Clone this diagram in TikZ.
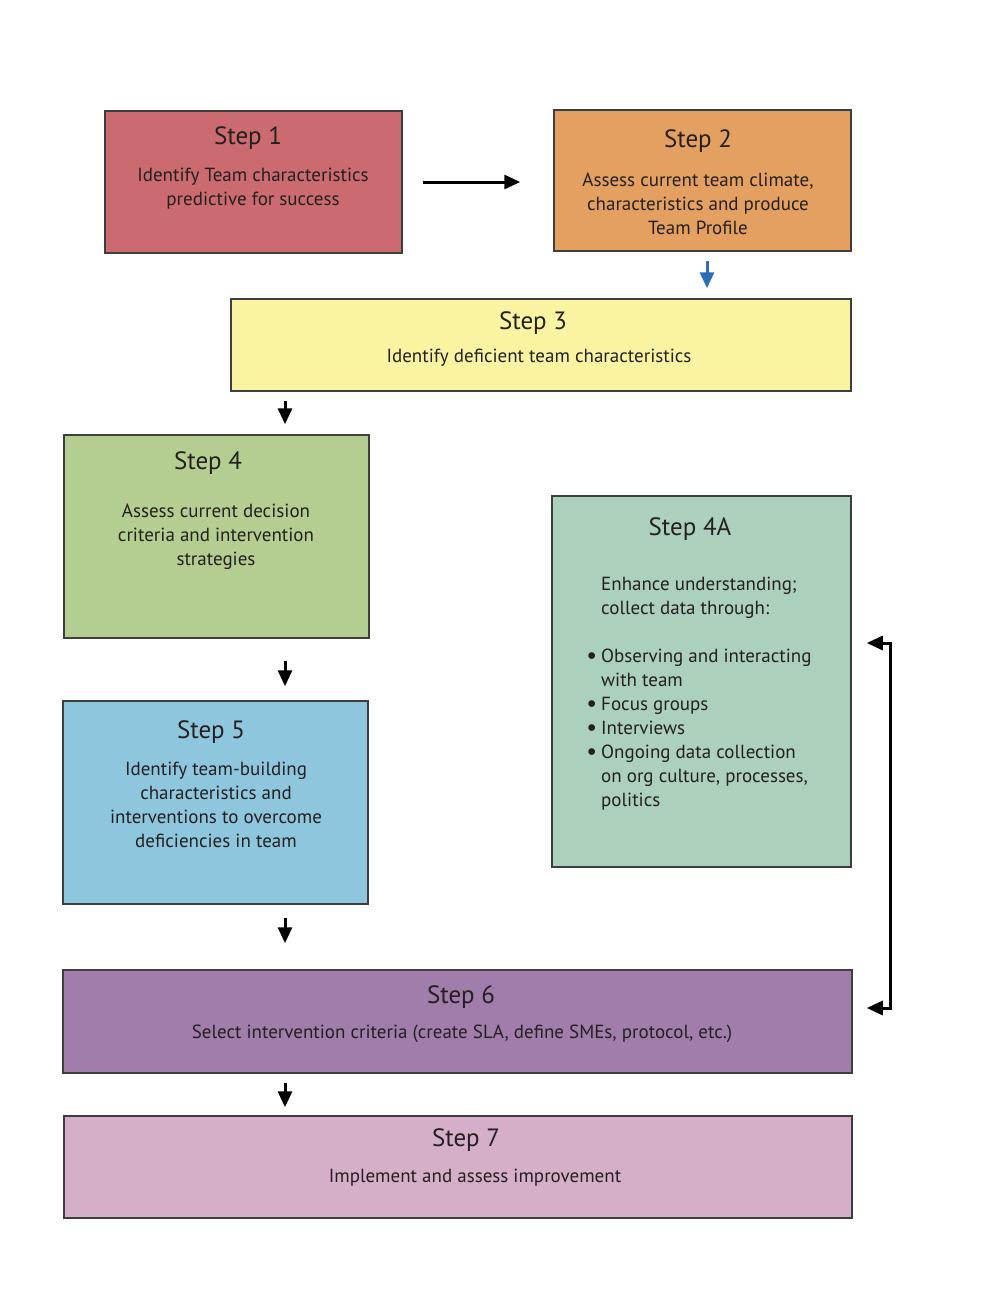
\documentclass[tikz,border=0pt]{standalone}
\usepackage{xcolor}
\usepackage{fontspec}
\setmainfont{PT Sans}
\usepackage{tikz}
\usetikzlibrary{arrows.meta,positioning}

\definecolor{stepone}{RGB}{203,107,111}
\definecolor{steptwo}{RGB}{227,160,96}
\definecolor{stepthree}{RGB}{250,244,162}
\definecolor{stepfour}{RGB}{180,206,145}
\definecolor{stepfoura}{RGB}{171,209,188}
\definecolor{stepfive}{RGB}{142,198,222}
\definecolor{stepsix}{RGB}{161,125,171}
\definecolor{stepseven}{RGB}{213,175,200}
\definecolor{boxline}{RGB}{62,62,62}
\definecolor{txt}{RGB}{36,32,32}
\definecolor{arrowblue}{RGB}{47,109,181}

\newcommand{\bulletmark}{\llap{\smash{\raisebox{-1pt}{\fontsize{24}{24}\selectfont\textbullet}}\hspace{4pt}}}

\begin{document}
\begin{tikzpicture}[x=1pt,y=-1pt,
      box_st/.style={
         rectangle,
         draw=boxline,
         line width=1.5pt,
         inner sep=0pt},
      title_txt/.style={
         text=txt,
         inner sep=0pt,
         font=\fontsize{25}{30}\selectfont},
      body_txt/.style={
         text=txt,
         inner sep=0pt,
         align=center,
         font=\fontsize{19}{24}\selectfont},
      arrow_black/.style={
         line width=3pt,
         -{Triangle[width=14pt,length=16pt]}},
]
      \useasboundingbox[fill=white] (0,0) rectangle (1000,1294);

      %boxes
      \node[box_st,fill=stepone,minimum width=297pt,minimum height=142pt] (s1) at (253.5,182) {};
      \node[box_st,fill=steptwo,minimum width=297pt,minimum height=141pt] (s2) at (702.5,180.5) {};
      \node[box_st,fill=stepthree,minimum width=620pt,minimum height=92pt] (s3) at (541,345) {};
      \node[box_st,fill=stepfour,minimum width=305pt,minimum height=203pt] (s4) at (216.5,536.5) {};
      \node[box_st,fill=stepfoura,minimum width=299pt,minimum height=371pt] (s4a) at (701.5,681.5) {};
      \node[box_st,fill=stepfive,minimum width=305pt,minimum height=203pt] (s5) at (215.5,802.5) {};
      \node[box_st,fill=stepsix,minimum width=789pt,minimum height=103pt] (s6) at (457.5,1021.5) {};
      \node[box_st,fill=stepseven,minimum width=788pt,minimum height=102pt] (s7) at (458,1167) {};

      %titles
      \node[title_txt] (t1) at (248,138) {Step 1};
      \node[title_txt] (t2) at (698,141) {Step 2};
      \node[title_txt] (t3) at (533,323) {Step 3};
      \node[title_txt] (t4) at (208,463) {Step 4};
      \node[title_txt] (t4a) at (690,529) {Step 4A};
      \node[title_txt] (t5) at (211,732) {Step 5};
      \node[title_txt] (t6) at (461,997) {Step 6};
      \node[title_txt] (t7) at (466,1140) {Step 7};

      %texts
      \node[body_txt] (b1) at (253,189) {Identify Team characteristics\\predictive for success};
      \node[body_txt] (b2) at (698,204) {Assess current team climate,\\characteristics and produce\\Team Profile};
      \node[body_txt] (b3) at (539,358) {Identify deficient team characteristics};
      \node[body_txt] (b4) at (216,537) {Assess current decision\\criteria and intervention\\strategies};
      \node[body_txt,align=left,anchor=west] (b4a) at (601,694) {Enhance understanding;\\collect data through:\\[24pt]
         \bulletmark Observing and interacting\\with team\\
         \bulletmark Focus groups\\
         \bulletmark Interviews\\
         \bulletmark Ongoing data collection\\on org culture, processes,\\politics};
      \node[body_txt] (b5) at (216,804.5) {Identify team-building\\characteristics and\\interventions to overcome\\deficiencies in team};
      \node[body_txt] (b6) at (462,1034) {Select intervention criteria (create SLA, define SMEs, protocol, etc.)};
      \node[body_txt] (b7) at (475,1178) {Implement and assess improvement};

      \coordinate (col) at (285,0);

      \draw[arrow_black,shorten <=20pt,shorten >=33pt] (s1.east) -- (s1.east -| s2.west);
      \draw[arrow_black,arrowblue,shorten <=9pt,shorten >=10pt] ([xshift=4.5pt]s2.south) -- ([xshift=4.5pt]s2.south |- s3.north);

    \foreach \i/\j/\a/\b in {% start node/end node/gap start/gap end
      s3/s4/9/10,
      s4/s5/22/14,
      s5/s6/13/26,
      s6/s7/9/8}
      \draw[arrow_black,shorten <=\a pt,shorten >=\b pt] (\i.south -| col) -- (\j.north -| col);

      \draw[arrow_black,{Triangle[width=14pt,length=16pt]}-{Triangle[width=14pt,length=16pt]}]
         ([xshift=15pt,yshift=38.5pt]s4a.east) -- ++(24,0) |- ([xshift=14pt,yshift=13.5pt]s6.east);

\end{tikzpicture}
\end{document}
